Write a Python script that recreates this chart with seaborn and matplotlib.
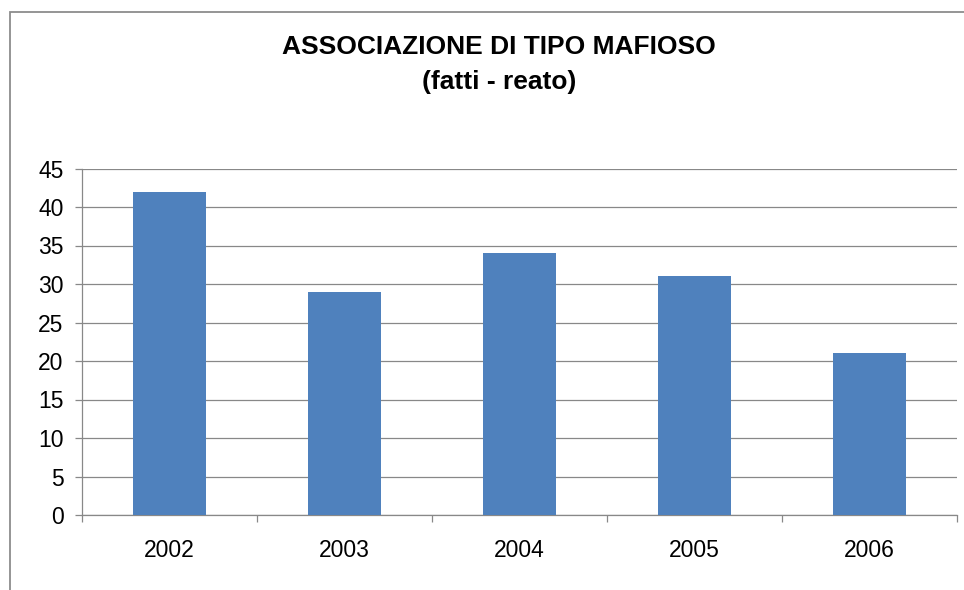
import matplotlib
matplotlib.use("Agg")
import matplotlib.pyplot as plt
import seaborn as sns
import pandas as pd
from matplotlib.patches import Rectangle

years = ["2002", "2003", "2004", "2005", "2006"]
values = [42, 29, 34, 31, 21]
title_line1 = "ASSOCIAZIONE DI TIPO MAFIOSO"
title_line2 = "(fatti - reato)"

sns.set_theme(style="white")
plt.rcParams['font.family'] = ['Liberation Sans', 'DejaVu Sans']
plt.rcParams['text.color'] = 'black'
plt.rcParams['xtick.color'] = 'black'
plt.rcParams['ytick.color'] = 'black'

df = pd.DataFrame({"anno": years, "valore": values})

fig = plt.figure(figsize=(9.64, 5.90), dpi=100)
ax = fig.add_axes([81.5/964, 1-515/590, (957-81.5)/964, (515-168.5)/590])

grid_c = "#888888"
sns.barplot(data=df, x="anno", y="valore", color="#4F81BD", saturation=1,
            width=0.417, ax=ax, zorder=3, linewidth=0)

ax.set_ylim(0, 45)
ax.set_xlim(-0.5, 4.5)
ax.set_yticks(range(0, 46, 5))
ax.yaxis.grid(True, color=grid_c, linewidth=0.9, zorder=0)
ax.set_axisbelow(True)
ax.set_xlabel("")
ax.set_ylabel("")
for s in ["top", "right"]:
    ax.spines[s].set_visible(False)
ax.spines["left"].set_color(grid_c)
ax.spines["bottom"].set_color(grid_c)
ax.spines["left"].set_linewidth(0.9)
ax.spines["bottom"].set_linewidth(0.9)

ax.tick_params(axis="y", which="major", length=5, width=0.9, color=grid_c,
               labelcolor="black", labelsize=16.5, pad=8, left=True)
ax.set_xticks([i - 0.5 for i in range(6)], minor=False)
ax.set_xticklabels([])
ax.set_xticks(range(5), minor=True)
ax.set_xticklabels(years, minor=True)
ax.tick_params(axis="x", which="major", length=5, width=0.9, color=grid_c,
               bottom=True)
ax.tick_params(axis="x", which="minor", length=0, labelsize=16.5, pad=17,
               labelcolor="black")

fig.text(0.518, 1-46.5/590, title_line1, ha="center", va="center",
         fontsize=19, fontweight="bold", color="black")
fig.text(0.518, 1-82/590, title_line2, ha="center", va="center",
         fontsize=19, fontweight="bold", color="black")

# outer chart frame
fig.patches.append(Rectangle((9.5/964, -0.05), 1.0, 1-12.5/590+0.05,
                             transform=fig.transFigure, fill=False,
                             edgecolor="#8c8c8c", linewidth=1.3))

fig.savefig("out.png", dpi=100)
